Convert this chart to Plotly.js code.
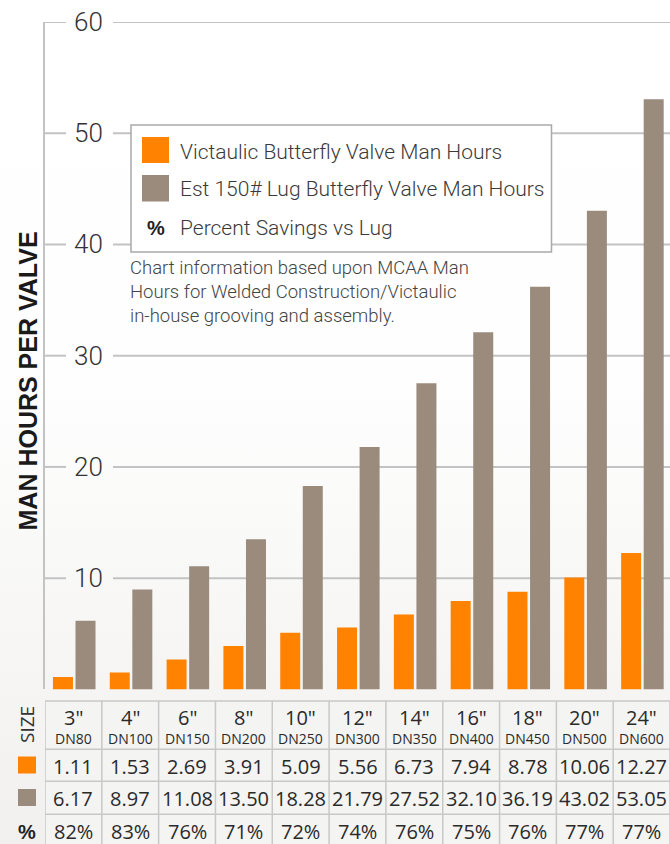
<!DOCTYPE html>
<html>
<head>
<meta charset="utf-8">
<script src="https://cdn.plot.ly/plotly-3.0.1.min.js"></script>
<style>
html, body { margin: 0; padding: 0; }
body { width: 670px; height: 844px; overflow: hidden;
  background: linear-gradient(to bottom, #ffffff 0%, #fefefe 45%, #f1f0ee 100%); }
#chart { width: 670px; height: 844px; }
</style>
</head>
<body>
<div id="chart"></div>
<script>
// ---- data ----
const sizes = ['3"', '4"', '6"', '8"', '10"', '12"', '14"', '16"', '18"', '20"', '24"'];
const dnSizes = ['DN80', 'DN100', 'DN150', 'DN200', 'DN250', 'DN300', 'DN350', 'DN400', 'DN450', 'DN500', 'DN600'];
const victaulicHours = [1.11, 1.53, 2.69, 3.91, 5.09, 5.56, 6.73, 7.94, 8.78, 10.06, 12.27];
const lugHours = [6.17, 8.97, 11.08, 13.50, 18.28, 21.79, 27.52, 32.10, 36.19, 43.02, 53.05];
const savings = ['82%', '83%', '76%', '71%', '72%', '74%', '76%', '75%', '76%', '77%', '77%'];
const yTicks = [10, 20, 30, 40, 50, 60];
const seriesNames = ['Victaulic Butterfly Valve Man Hours', 'Est 150# Lug Butterfly Valve Man Hours', 'Percent Savings vs Lug'];
const yTitle = 'MAN HOURS PER VALVE';
const note = 'Chart information based upon MCAA Man<br>Hours for Welded Construction/Victaulic<br>in-house grooving and assembly.';
const sizeLabel = 'SIZE';

// ---- styling / geometry helpers ----
const W = 670, H = 844, ML = 45, MR = 0, MT = 22, MB = 0;
const PW = W - ML - MR, PH = H - MT - MB;
const px = p => (p - ML) / PW;      // pixel x -> paper x
const py = p => (H - p) / PH;       // pixel y -> paper y
const ORANGE = '#ff8200', GRAY = '#9a8b7d', GRID = '#c3c3c3', BORDER = '#c8c8c8';
const TXT = '#2a2a2a';
const tableFont = 'Open Sans, sans-serif';
const labelFont = 'Roboto, sans-serif';

const traces = [
  { type: 'bar', name: seriesNames[0], x: sizes, y: victaulicHours,
    marker: { color: ORANGE, line: { width: 0 } }, offset: -0.36, width: 0.352,
    hoverinfo: 'y', showlegend: false },
  { type: 'bar', name: seriesNames[1], x: sizes, y: lugHours,
    marker: { color: GRAY, line: { width: 0 } }, offset: 0.037, width: 0.352,
    hoverinfo: 'y', showlegend: false }
];

const shapes = [];
const annotations = [];

// gridlines (with gap for labels)
yTicks.forEach(t => {
  shapes.push({ type: 'line', layer: 'below', xref: 'paper', yref: 'y', x0: 0, x1: px(66), y0: t, y1: t,
    line: { color: GRID, width: 2 } });
  shapes.push({ type: 'line', layer: 'below', xref: 'paper', yref: 'y', x0: px(113), x1: 1, y0: t, y1: t,
    line: { color: GRID, width: 2 } });
  annotations.push({ xref: 'paper', yref: 'y', x: px(88.5), y: t, text: String(t), showarrow: false,
    xanchor: 'center', yanchor: 'middle',
    font: { family: labelFont, size: 26, color: '#333', weight: 300 } });
});

// y title
annotations.push({ xref: 'paper', yref: 'paper', x: px(27.5), y: py(381), text: yTitle, textangle: -90,
  showarrow: false, xanchor: 'center', yanchor: 'middle',
  font: { family: 'Liberation Sans, Arial, sans-serif', size: 25, color: '#1a1a1a', weight: 700 } });

// legend box
shapes.push({ type: 'rect', layer: 'above', xref: 'paper', yref: 'paper',
  x0: px(131), x1: px(551.5), y0: py(252), y1: py(125),
  fillcolor: '#ffffff', line: { color: '#a9a9a9', width: 1.5 } });
shapes.push({ type: 'rect', layer: 'above', xref: 'paper', yref: 'paper',
  x0: px(142), x1: px(169), y0: py(163), y1: py(137), fillcolor: ORANGE, line: { width: 0 } });
shapes.push({ type: 'rect', layer: 'above', xref: 'paper', yref: 'paper',
  x0: px(142), x1: px(169), y0: py(201.5), y1: py(175), fillcolor: GRAY, line: { width: 0 } });
annotations.push({ xref: 'paper', yref: 'paper', x: px(155.5), y: py(228), text: '%', showarrow: false,
  xanchor: 'center', yanchor: 'middle',
  font: { family: 'Liberation Sans, Arial, sans-serif', size: 20, color: '#222', weight: 700 } });
[152, 189, 228].forEach((yy, i) => {
  annotations.push({ xref: 'paper', yref: 'paper', x: px(177.5), y: py(yy), text: seriesNames[i], showarrow: false,
    xanchor: 'left', yanchor: 'middle',
    font: { family: labelFont, size: 21, color: '#3a3a3a', weight: 300 } });
});

// note
annotations.push({ xref: 'paper', yref: 'paper', x: px(127.5), y: py(255), text: note, showarrow: false,
  xanchor: 'left', yanchor: 'top', align: 'left',
  font: { family: labelFont, size: 18.5, color: '#444', weight: 300 } });

// ---- table ----
const rowLines = [701, 749.3, 781.3, 814.3];
shapes.push({ type: 'rect', layer: 'below', xref: 'x', yref: 'paper',
  x0: -0.5, x1: sizes.length - 0.5, y0: py(850), y1: py(701),
  fillcolor: '#f4f4f3', line: { width: 0 } });
rowLines.forEach(r => {
  shapes.push({ type: 'line', xref: 'x', yref: 'paper', x0: -0.5, x1: sizes.length - 0.5,
    y0: py(r), y1: py(r), line: { color: BORDER, width: 1.5 } });
});
for (let i = 0; i <= sizes.length; i++) {
  shapes.push({ type: 'line', xref: 'x', yref: 'paper', x0: i - 0.5, x1: i - 0.5,
    y0: py(701), y1: py(850), line: { color: BORDER, width: 1.5 } });
}
sizes.forEach((s, i) => {
  const cells = [
    [s, 717, 20], [dnSizes[i], 738.5, 14],
    [victaulicHours[i].toFixed(2), 766, 20],
    [lugHours[i].toFixed(2), 798, 20],
    [savings[i], 831, 20]
  ];
  cells.forEach(([t, yy, fs]) => {
    annotations.push({ xref: 'x', yref: 'paper', x: i, y: py(yy), text: t, showarrow: false,
      xanchor: 'center', yanchor: 'middle', font: { family: tableFont, size: fs, color: TXT } });
  });
});
// table row header column
annotations.push({ xref: 'paper', yref: 'paper', x: px(27), y: py(725), text: sizeLabel, textangle: -90,
  showarrow: false, xanchor: 'center', yanchor: 'middle',
  font: { family: tableFont, size: 19, color: '#333' } });
shapes.push({ type: 'rect', xref: 'paper', yref: 'paper', x0: px(18), x1: px(36), y0: py(773.5), y1: py(756.5),
  fillcolor: ORANGE, line: { width: 0 } });
shapes.push({ type: 'rect', xref: 'paper', yref: 'paper', x0: px(18), x1: px(36), y0: py(806), y1: py(789),
  fillcolor: GRAY, line: { width: 0 } });
annotations.push({ xref: 'paper', yref: 'paper', x: px(27), y: py(832), text: '%', showarrow: false,
  xanchor: 'center', yanchor: 'middle',
  font: { family: 'Liberation Sans, Arial, sans-serif', size: 20, color: '#222', weight: 700 } });

const y0px = 689.4;
const layout = {
  width: W, height: H,
  margin: { l: ML, r: MR, t: MT, b: MB, pad: 0 },
  paper_bgcolor: 'rgba(0,0,0,0)', plot_bgcolor: 'rgba(0,0,0,0)',
  barmode: 'overlay',
  showlegend: false,
  xaxis: { type: 'category', range: [-0.5, sizes.length - 0.5], showgrid: false, showline: false,
    zeroline: false, showticklabels: false, ticks: '', fixedrange: true },
  yaxis: { range: [0, 60], domain: [py(y0px), 1], showgrid: false, zeroline: false,
    showline: true, linecolor: GRID, linewidth: 2, showticklabels: false, ticks: '',
    tickvals: yTicks, fixedrange: true },
  shapes: shapes,
  annotations: annotations
};

Plotly.newPlot('chart', traces, layout, { displayModeBar: false, staticPlot: true });
</script>
</body>
</html>
